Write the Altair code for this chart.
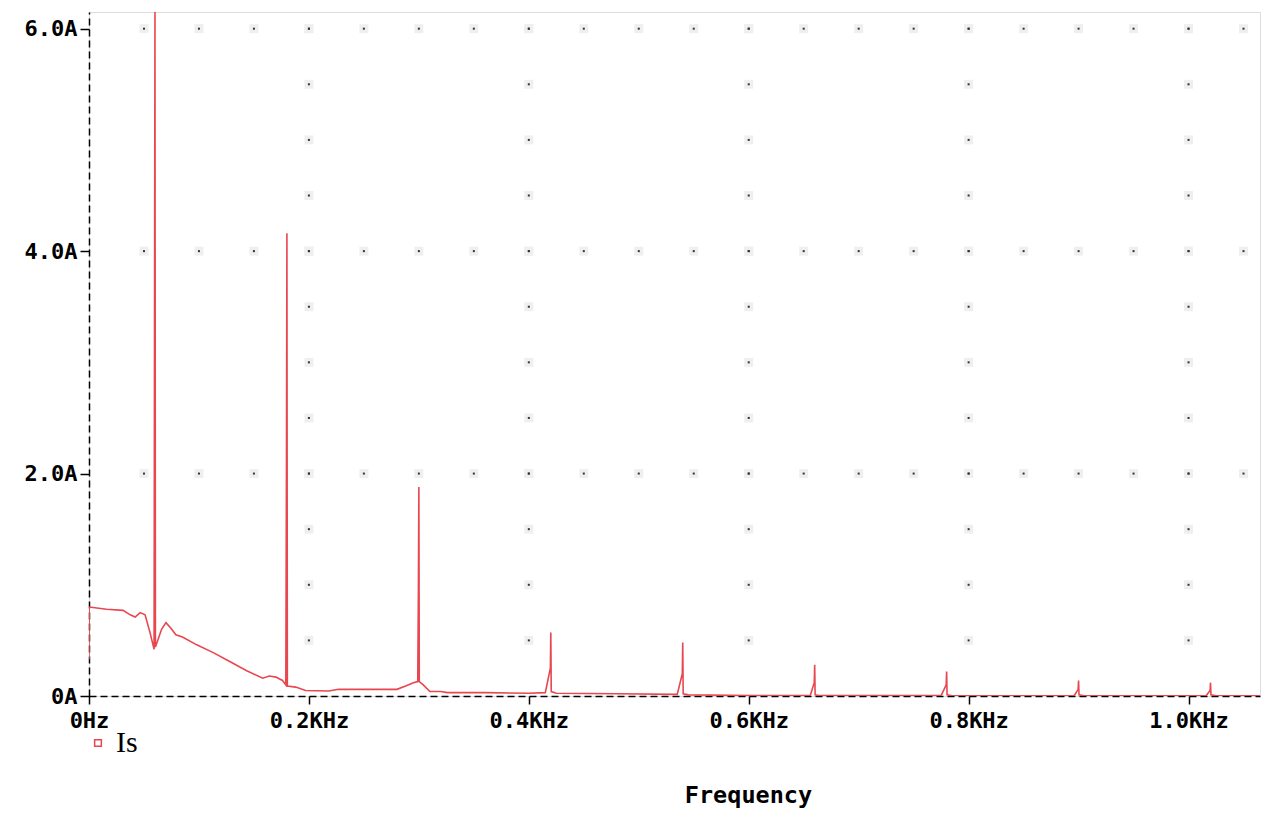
import altair as alt
import pandas as pd

# Spectrum of Is (frequency in KHz, amplitude in A)
freq_khz = [0.0000, 0.0002, 0.0160, 0.0310, 0.0375, 0.0420, 0.0465, 0.0510, 0.0555, 0.0592,
            0.0596, 0.0600, 0.0604, 0.0625, 0.0660, 0.0700, 0.0745, 0.0790, 0.0850, 0.0980,
            0.1130, 0.1280, 0.1430, 0.1580, 0.1640, 0.1700, 0.1760, 0.1790, 0.1796, 0.1800,
            0.1804, 0.1880, 0.1970, 0.2180, 0.2270, 0.2800, 0.2880, 0.2950, 0.2990, 0.2996,
            0.3000, 0.3004, 0.3040, 0.3100, 0.3200, 0.3260, 0.3600, 0.4000, 0.4150, 0.4196,
            0.4200, 0.4204, 0.4250, 0.4800, 0.5350, 0.5396, 0.5400, 0.5404, 0.5450, 0.6000,
            0.6560, 0.6596, 0.6600, 0.6604, 0.6650, 0.7750, 0.7796, 0.7800, 0.7804, 0.7850,
            0.8960, 0.8996, 0.9000, 0.9004, 0.9050, 1.0160, 1.0196, 1.0200, 1.0204, 1.0250,
            1.0650]
amp_a = [0.33, 0.80, 0.78, 0.77, 0.73, 0.71, 0.75, 0.73, 0.57, 0.42,
         3.38, 6.15, 0.44, 0.50, 0.60, 0.66, 0.61, 0.55, 0.53, 0.46,
         0.39, 0.31, 0.23, 0.16, 0.18, 0.17, 0.14, 0.10, 2.10, 4.16,
         0.09, 0.08, 0.05, 0.045, 0.06, 0.06, 0.09, 0.12, 0.13, 0.97,
         1.88, 0.13, 0.10, 0.04, 0.04, 0.03, 0.03, 0.025, 0.03, 0.25,
         0.57, 0.04, 0.025, 0.02, 0.015, 0.20, 0.48, 0.02, 0.01, 0.005,
         0.005, 0.12, 0.28, 0.01, 0.003, 0.003, 0.10, 0.22, 0.01, 0.002,
         0.002, 0.06, 0.14, 0.01, 0.002, 0.002, 0.05, 0.12, 0.01, 0.001,
         0.001]
series_name = "Is"

x_ticks = [0, 0.2, 0.4, 0.6, 0.8, 1.0]
y_ticks = [0, 2, 4, 6]

# dotted grid: rows along the labelled current levels, columns along the frequency ticks
row_levels = [2, 4, 6]
row_dot_freqs = [0.05, 0.10, 0.15, 0.20, 0.25, 0.30, 0.35, 0.40, 0.45, 0.50, 0.55,
                 0.60, 0.65, 0.70, 0.75, 0.80, 0.85, 0.90, 0.95, 1.00, 1.05]
col_freqs = [0.2, 0.4, 0.6, 0.8, 1.0]
col_dot_levels = [0.5, 1.0, 1.5, 2.0, 2.5, 3.0, 3.5, 4.0, 4.5, 5.0, 5.5, 6.0]

RED = "#e8474f"
FONT = "DejaVu Sans Mono"

df = pd.DataFrame({"f": freq_khz, "a": amp_a, "s": series_name})
grid_rows = [{"f": f, "a": a} for a in row_levels for f in row_dot_freqs]
grid_cols = [{"f": f, "a": a} for f in col_freqs for a in col_dot_levels]
grid_df = pd.DataFrame(grid_rows + grid_cols)

x_scale = alt.Scale(domain=[0, 1.065], nice=False, zero=False)
y_scale = alt.Scale(domain=[0, 6.15], nice=False)

x_axis = alt.Axis(
    values=x_ticks,
    labelExpr="datum.value == 0 ? '0Hz' : format(datum.value, '.1f') + 'KHz'",
    grid=False, domainColor="black", domainDash=[7, 4], domainWidth=1.5,
    tickColor="black", tickSize=8, tickWidth=1.5,
    labelFont=FONT, labelFontSize=22, labelFontWeight="bold", labelColor="black",
    labelPadding=6, labelFlush=False,
    title="Frequency", titleFont=FONT, titleFontSize=23.5, titleFontWeight="bold",
    titleColor="black", titlePadding=52, titleX=659, titleAnchor="start", titleAlign="center",
)
y_axis = alt.Axis(
    values=y_ticks,
    labelExpr="datum.value == 0 ? '0A' : format(datum.value, '.1f') + 'A'",
    grid=False, domainColor="black", domainDash=[7, 4], domainWidth=1.5,
    tickColor="black", tickSize=9, tickWidth=1.5,
    labelFont=FONT, labelFontSize=22, labelFontWeight="bold", labelColor="black",
    labelPadding=3, title=None,
)

halo = alt.Chart(grid_df).mark_square(size=80, color="#efefef", opacity=1).encode(
    x=alt.X("f:Q", scale=x_scale, axis=x_axis),
    y=alt.Y("a:Q", scale=y_scale, axis=y_axis),
)
dots = alt.Chart(grid_df).mark_square(size=4, color="#333333", opacity=1).encode(
    x=alt.X("f:Q", scale=x_scale),
    y=alt.Y("a:Q", scale=y_scale),
)

line = alt.Chart(df).mark_line(strokeWidth=1.6, clip=True, interpolate="linear").encode(
    x=alt.X("f:Q", scale=x_scale, sort=None),
    y=alt.Y("a:Q", scale=y_scale),
    order=alt.Order("f:Q"),
    color=alt.Color(
        "s:N",
        scale=alt.Scale(domain=[series_name], range=[RED]),
        legend=alt.Legend(
            orient="none", legendX=-6, legendY=716, title=None,
            symbolType="square", symbolSize=45, symbolStrokeWidth=1.5,
            symbolFillColor="white",
            labelFont="Liberation Serif", labelFontSize=30, labelColor="black",
            labelOffset=3,
        ),
    ),
)

chart = alt.layer(halo, dots, line).properties(
    width=1171, height=684,
    padding={"left": 89, "top": 12, "right": 8, "bottom": 118},
    autosize=alt.AutoSizeParams(type="none"),
).configure_view(stroke=None).configure(background="white")

chart.save("out.html", embed_options={"renderer": "svg", "actions": False})
